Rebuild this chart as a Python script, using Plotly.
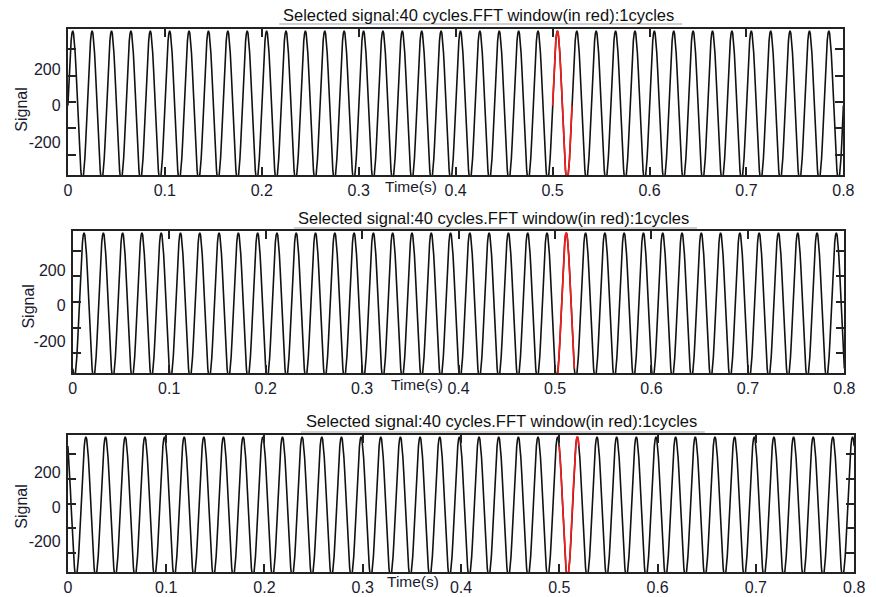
import numpy as np
import plotly.graph_objects as go

# ---- data ----
cycles = 40                 # "Selected signal:40 cycles"
duration = 0.8              # seconds shown on the time axis
amplitude = 410             # peak value (waves touch the frame)
phases_deg = [0, -120, 120] # phase of each panel's signal
window_start = [0.50, 0.50, 0.50]   # FFT window (red) start, s
window_cycles = 1
samples_per_cycle = 24
x_ticks = [0, 0.1, 0.2, 0.3, 0.4, 0.5, 0.6, 0.7, 0.8]
y_ticks = [-200, 0, 200]
y_tick_labels = ["-200", "0", "200"]
y_minor = [-270, -125, 20, 165, 310]
title_text = "Selected signal:40 cycles.FFT window(in red):1cycles"

freq = cycles / duration
W, H = 876, 597

def xp(px):
    return px / W

def yp(py):
    return 1 - py / H

# panel frames in pixels (left, right, top, bottom)
frames = [(65, 854, 29, 175), (70, 855, 231, 373), (65, 865, 435, 572)]
title_pos = [(483, 15), (498, 218), (506, 421)]
underline = [(280, 690, 24), (295, 705, 228), (302, 713, 432)]
time_pos = [(414, 186), (420, 384), (416, 581)]
signal_pos = [(18, 110), (24, 307), (17, 507)]

font_family = "Liberation Sans, Arial, sans-serif"
txt_color = "#1a1a30"

fig = go.Figure()
n = cycles * samples_per_cycle + 1
t = np.linspace(0, duration, n)

for i, ph in enumerate(phases_deg):
    xa = "x" if i == 0 else f"x{i+1}"
    ya = "y" if i == 0 else f"y{i+1}"
    sig = amplitude * np.sin(2 * np.pi * freq * t + np.deg2rad(ph))
    fig.add_trace(go.Scatter(x=t, y=sig, mode="lines", xaxis=xa, yaxis=ya,
                             line=dict(color="#111111", width=1.6),
                             showlegend=False, hoverinfo="skip"))
    t0 = window_start[i]
    tw = np.linspace(t0, t0 + window_cycles / freq, samples_per_cycle * 2 + 1)
    sw = amplitude * np.sin(2 * np.pi * freq * tw + np.deg2rad(ph))
    fig.add_trace(go.Scatter(x=tw, y=sw, mode="lines", xaxis=xa, yaxis=ya,
                             line=dict(color="#ff1a1a", width=1.6),
                             showlegend=False, hoverinfo="skip"))

layout = dict(width=W, height=H, margin=dict(l=0, r=0, t=0, b=0),
              paper_bgcolor="white", plot_bgcolor="white",
              font=dict(family=font_family, size=16, color=txt_color))

annotations = []
shapes = []
for i, (l, r, tp, bt) in enumerate(frames):
    sx = "xaxis" if i == 0 else f"xaxis{i+1}"
    sy = "yaxis" if i == 0 else f"yaxis{i+1}"
    ya = "y" if i == 0 else f"y{i+1}"
    xa = "x" if i == 0 else f"x{i+1}"
    layout[sx] = dict(domain=[xp(l), xp(r)], range=[0, duration], anchor=ya,
                      tickvals=x_ticks, ticks="inside", ticklen=8, tickwidth=1.5,
                      tickcolor="#222", showline=True, linecolor="#222", linewidth=2,
                      mirror="ticks", showgrid=False, zeroline=False,
                      tickfont=dict(size=16, color=txt_color))
    layout[sy] = dict(domain=[yp(bt), yp(tp)], range=[-380, 420], anchor=xa,
                      tickvals=y_ticks, ticktext=y_tick_labels, ticks="",
                      showline=True, linecolor="#222",
                      linewidth=2, mirror=True, showgrid=False, zeroline=False,
                      ticklabelstandoff=2,
                      minor=dict(tickvals=y_minor, ticks="inside", ticklen=8,
                                 tickwidth=1.5, tickcolor="#222", showgrid=False),
                      tickfont=dict(size=16, color=txt_color))
    # right-side y ticks via an overlaying axis
    sy2 = f"yaxis{i+4}"
    layout[sy2] = dict(domain=[yp(bt), yp(tp)], range=[-380, 420], overlaying=ya,
                       anchor=xa, side="right", tickvals=y_minor, ticks="inside",
                       ticklen=8, tickwidth=1.5, tickcolor="#222", showticklabels=False,
                       showgrid=False, zeroline=False, showline=False)

    tx, ty = title_pos[i]
    annotations.append(dict(text=title_text, x=xp(tx), y=yp(ty), xref="paper", yref="paper",
                            showarrow=False, xanchor="center", yanchor="middle",
                            font=dict(size=16.5, color="#111111")))
    ux0, ux1, uy = underline[i]
    shapes.append(dict(type="line", xref="paper", yref="paper", x0=xp(ux0), x1=xp(ux1),
                       y0=yp(uy), y1=yp(uy), line=dict(color="#cfcfcf", width=2), layer="below"))
    mx, my = time_pos[i]
    annotations.append(dict(text="Time(s)", x=xp(mx), y=yp(my), xref="paper", yref="paper",
                            showarrow=False, xanchor="center", yanchor="middle",
                            font=dict(size=15.5, color=txt_color)))
    gx, gy = signal_pos[i]
    annotations.append(dict(text="Signal", x=xp(gx), y=yp(gy), xref="paper", yref="paper",
                            showarrow=False, xanchor="center", yanchor="middle", textangle=-90,
                            font=dict(size=16, color=txt_color)))

layout["annotations"] = annotations
layout["shapes"] = shapes
fig.update_layout(**layout)

# dummy traces so that the right-side axes are drawn
for i in range(3):
    xa = "x" if i == 0 else f"x{i+1}"
    fig.add_trace(go.Scatter(x=[None], y=[None], xaxis=xa, yaxis=f"y{i+4}",
                             showlegend=False, hoverinfo="skip"))

fig.write_html("out.html")
